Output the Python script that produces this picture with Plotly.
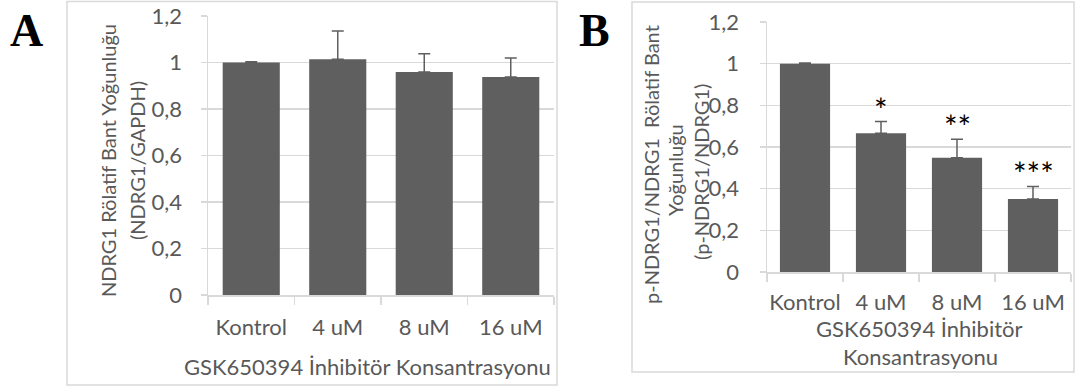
import plotly.graph_objects as go

# ---- data ----
categories = ["Kontrol", "4 uM", "8 uM", "16 uM"]
a_values = [1.0, 1.014, 0.959, 0.938]
a_errors = [0.003, 0.121, 0.079, 0.081]
b_values = [1.0, 0.666, 0.549, 0.350]
b_errors = [0.003, 0.056, 0.088, 0.061]
b_signif = ["", "*", "**", "***"]
y_tickvals = [0, 0.2, 0.4, 0.6, 0.8, 1.0, 1.2]
y_ticktext = ["0", "0,2", "0,4", "0,6", "0,8", "1", "1,2"]

W, H = 1080, 387
TXT = "#595959"
GRID = "#d9d9d9"
BAR = "#5f5f5f"
FONT = "Lato"


def px(x):
    return x / W


def py(y):
    return 1 - y / H


fig = go.Figure()

fig.add_trace(go.Bar(
    x=categories, y=a_values, xaxis="x", yaxis="y",
    marker=dict(color=BAR, line=dict(width=0)),
    error_y=dict(type="data", array=a_errors, arrayminus=[0] * len(a_errors),
                 symmetric=False, color=BAR, thickness=1.5, width=6),
    width=0.66, showlegend=False, hoverinfo="skip"))

fig.add_trace(go.Bar(
    x=categories, y=b_values, xaxis="x2", yaxis="y2",
    marker=dict(color=BAR, line=dict(width=0)),
    error_y=dict(type="data", array=b_errors, arrayminus=[0] * len(b_errors),
                 symmetric=False, color=BAR, thickness=1.5, width=6),
    width=0.66, showlegend=False, hoverinfo="skip"))

xcommon = dict(type="category", showline=True, linecolor=GRID, linewidth=1.5,
               ticks="outside", tickson="boundaries", ticklen=8, tickcolor=GRID,
               tickwidth=1.5, showgrid=False, zeroline=False, tickangle=0,
               automargin=False,
               tickfont=dict(family=FONT, size=22, color=TXT))
ycommon = dict(range=[0, 1.2], tickvals=y_tickvals, ticktext=y_ticktext,
               showline=True, linecolor=GRID, linewidth=1.5,
               ticks="outside", ticklen=6, tickcolor=GRID, tickwidth=1.5,
               showgrid=True, gridcolor=GRID, gridwidth=1.5, zeroline=False,
               automargin=False,
               tickfont=dict(family=FONT, size=22, color=TXT))

fig.update_layout(
    width=W, height=H, margin=dict(l=0, r=0, t=0, b=0, pad=0),
    paper_bgcolor="white", plot_bgcolor="white",
    xaxis=dict(domain=[px(208), px(554)], anchor="y", ticklabelstandoff=12, **xcommon),
    yaxis=dict(domain=[py(295), py(16)], anchor="x", ticklabelstandoff=14, **ycommon),
    xaxis2=dict(domain=[px(767), px(1071)], anchor="y2", ticklabelstandoff=10, **xcommon),
    yaxis2=dict(domain=[py(272), py(22)], anchor="x2", ticklabelstandoff=16, **ycommon),
)

shapes = [
    dict(type="rect", xref="paper", yref="paper", x0=px(67), x1=px(557),
         y0=py(385), y1=py(1.5), line=dict(color=GRID, width=1.5), layer="below"),
    dict(type="rect", xref="paper", yref="paper", x0=px(632), x1=px(1074),
         y0=py(372), y1=py(2), line=dict(color=GRID, width=1.5), layer="below"),
]
fig.update_layout(shapes=shapes)

ann = []


def label(text, x, y, size, angle=0, color=TXT, family=FONT):
    ann.append(dict(text=text, x=px(x), y=py(y), xref="paper", yref="paper",
                    xanchor="center", yanchor="middle", showarrow=False,
                    textangle=angle, font=dict(family=family, size=size, color=color)))


# panel letters
label("<b>A</b>", 26, 31, 46, color="black", family="Liberation Serif")
label("<b>B</b>", 594, 31, 46, color="black", family="Liberation Serif")
# panel A axis titles
label("GSK650394 İnhibitör Konsantrasyonu", 367, 366, 22)
label("NDRG1 Rölatif Bant Yoğunluğu", 108, 161, 20, angle=-90)
label("(NDRG1/GAPDH)", 137, 161, 20, angle=-90)
# panel B axis titles
label("GSK650394 İnhibitör", 919, 328, 22)
label("Konsantrasyonu", 920, 356, 22)
label("p-NDRG1/NDRG1  Rölatif Bant", 651, 165, 20, angle=-90)
label("Yoğunluğu", 675, 170, 20, angle=-90)
label("(p-NDRG1/NDRG1)", 701, 172, 20, angle=-90)

# significance marks
for c, v, e, s in zip(categories, b_values, b_errors, b_signif):
    if s:
        ann.append(dict(text=s, x=c, y=v + e, xref="x2", yref="y2",
                        xanchor="center", showarrow=False, yanchor="bottom", yshift=-9,
                        font=dict(family=FONT, size=32, color="black")))
fig.update_layout(annotations=ann)

fig.write_html("out.html",
               config={"displayModeBar": False, "staticPlot": True},
               post_script="document.body.style.margin='0';document.body.style.padding='0';")
